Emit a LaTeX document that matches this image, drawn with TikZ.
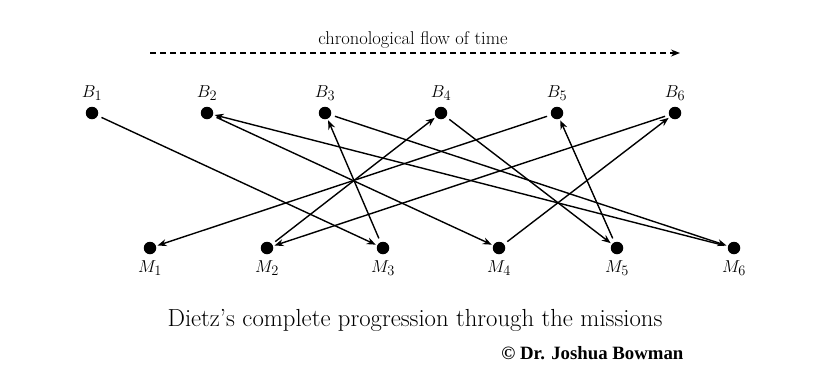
\documentclass[tikz,border=0pt]{standalone}
\usepackage{fontspec}
\newfontfamily\timesbf{Liberation Serif}
\usetikzlibrary{arrows.meta}
\begin{document}
\begin{tikzpicture}[x=1pt,y=-1pt,
  dot/.style={circle,fill=black,inner sep=0pt,minimum size=12.5pt},
  lbl/.style={font=\fontsize{19}{22}\selectfont},
  edge/.style={line width=1.4pt,-{Stealth[length=9pt,width=7pt]},shorten >=1.5pt,shorten <=4pt}]
\useasboundingbox (0,0) rectangle (827,389);
\foreach \i/\x in {1/92,2/207,3/325,4/441,5/557,6/675}{
  \node[dot] (B\i) at (\x,113) {};
  \node[lbl] (LB\i) at (\x,93) {$B_{\i}$};
}
\foreach \i/\x in {1/150,2/267,3/383,4/499,5/617,6/734}{
  \node[dot] (M\i) at (\x,248) {};
  \node[lbl] (LM\i) at (\x,268) {$M_{\i}$};
}
\draw[edge] (B1) -- (M3);
\draw[edge] (M3) -- (B3);
\draw[edge] (B3) -- (M6);
\draw[edge] (M6) -- (B2);
\draw[edge] (B2) -- (M4);
\draw[edge] (M4) -- (B6);
\draw[edge] (B6) -- (M2);
\draw[edge] (M2) -- (B4);
\draw[edge] (B4) -- (M5);
\draw[edge] (M5) -- (B5);
\draw[edge] (B5) -- (M1);
\coordinate (t0) at (150,53);
\coordinate (t1) at (680,53);
\draw[line width=1.4pt,dash pattern=on 6pt off 4pt,-{Stealth[length=9pt,width=7pt]}] (t0) -- (t1);
\node[font=\fontsize{18.5}{21}\selectfont] (tl) at (413,40) {chronological flow of time};
\node[font=\fontsize{24.7}{28}\selectfont] (cap) at (415,320) {Dietz’s complete progression through the missions};
\node[font=\timesbf\bfseries\fontsize{18.8}{21}\selectfont,anchor=east] (cp) at (687,353) {© Dr. Joshua Bowman};
\end{tikzpicture}
\end{document}
